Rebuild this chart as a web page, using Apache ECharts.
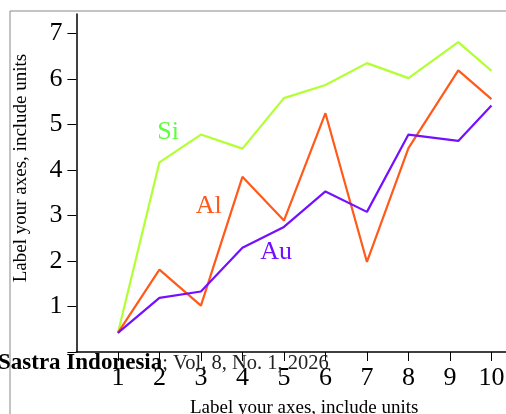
<!DOCTYPE html>
<html>
<head>
<meta charset="utf-8">
<script src="https://cdn.jsdelivr.net/npm/echarts@6/dist/echarts.min.js"></script>
<style>
html,body{margin:0;padding:0;background:#fff;}
#chart{width:506px;height:414px;}
</style>
</head>
<body>
<div id="chart"></div>
<script>
var xValues = [1, 2, 3, 4, 5, 6, 7, 8, 9.2, 10];
var siValues = [0.42, 4.17, 4.78, 4.47, 5.58, 5.87, 6.35, 6.02, 6.81, 6.18];
var alValues = [0.42, 1.81, 1.02, 3.85, 2.89, 5.25, 1.98, 4.48, 6.19, 5.56];
var auValues = [0.42, 1.19, 1.33, 2.29, 2.75, 3.53, 3.08, 4.78, 4.64, 5.42];
var xTicks = [1, 2, 3, 4, 5, 6, 7, 8, 9, 10];
var yTicks = [0, 1, 2, 3, 4, 5, 6, 7];
var yLabels = [1, 2, 3, 4, 5, 6, 7];
var seriesNames = ['Si', 'Al', 'Au'];
var labelX = [2.21, 3.19, 4.81];
var labelY = [4.84, 3.21, 2.2];
var axisName = 'Label your axes, include units';
var footerBold = 'Sastra Indonesia';
var footerRest = '; Vol. 8, No. 1, 2026';

var lineColors = ['#b2ff33', '#ff5a1a', '#7410ff'];
var textColors = ['#5cff3a', '#ff5a1a', '#7410ff'];
var allValues = [siValues, alValues, auValues];

function pairs(vals) {
  return xValues.map(function (x, i) { return [x, vals[i]]; });
}

var serif = '"Liberation Serif", "DejaVu Serif", serif';

var chart = echarts.init(document.getElementById('chart'), null, {renderer: 'canvas'});
chart.setOption({
  animation: false,
  backgroundColor: '#fff',
  grid: {left: 76.4, right: 0, top: 14, bottom: 62, containLabel: false, outerBoundsMode: 'none'},
  xAxis: {
    type: 'value', min: 0, max: 10.35, interval: 1,
    name: axisName, nameLocation: 'middle', nameGap: 47,
    nameTextStyle: {fontFamily: serif, fontSize: 19, color: '#000', padding: [0, 0, 0, 26]},
    axisLine: {show: true, lineStyle: {color: '#000', width: 1.5}},
    axisTick: {show: true, length: 9, customValues: xTicks, lineStyle: {color: '#000', width: 1}},
    axisLabel: {customValues: xTicks, fontFamily: serif, fontSize: 26, color: '#000', margin: 13},
    splitLine: {show: false}
  },
  yAxis: {
    type: 'value', min: 0, max: 7.43, interval: 1,
    name: axisName, nameLocation: 'middle', nameGap: 46,
    nameTextStyle: {fontFamily: serif, fontSize: 19, color: '#000', padding: [0, 0, 0, 30]},
    axisLine: {show: true, lineStyle: {color: '#000', width: 1.5}},
    axisTick: {show: true, length: 9, customValues: yTicks, lineStyle: {color: '#000', width: 1}},
    axisLabel: {customValues: yLabels, fontFamily: serif, fontSize: 26, color: '#000', margin: 14},
    splitLine: {show: false}
  },
  series: seriesNames.map(function (n, k) {
    return {
      name: n, type: 'line', data: pairs(allValues[k]),
      symbol: 'none', lineStyle: {color: lineColors[k], width: 2.2},
      itemStyle: {color: lineColors[k]},
      markPoint: {
        symbol: 'circle', symbolSize: 1, itemStyle: {color: 'rgba(0,0,0,0)'},
        data: [{coord: [labelX[k], labelY[k]], value: n}],
        label: {show: true, position: 'inside', formatter: n, fontFamily: serif, fontSize: 26, color: textColors[k]}
      }
    };
  }),
  graphic: [
    {type: 'line', shape: {x1: 10, y1: 11, x2: 506, y2: 11}, style: {stroke: '#888', lineWidth: 1}, z: 100},
    {type: 'line', shape: {x1: 10, y1: 11, x2: 10, y2: 414}, style: {stroke: '#888', lineWidth: 1}, z: 100},
    {type: 'text', left: -2, top: 352, z: 100,
      style: {
        text: '{b|' + footerBold + '}{r|' + footerRest + '}',
        rich: {
          b: {fontFamily: serif, fontSize: 23, fontWeight: 'bold', fill: '#000'},
          r: {fontFamily: serif, fontSize: 20.5, fill: '#222'}
        }
      }
    }
  ]
});
</script>
</body>
</html>
